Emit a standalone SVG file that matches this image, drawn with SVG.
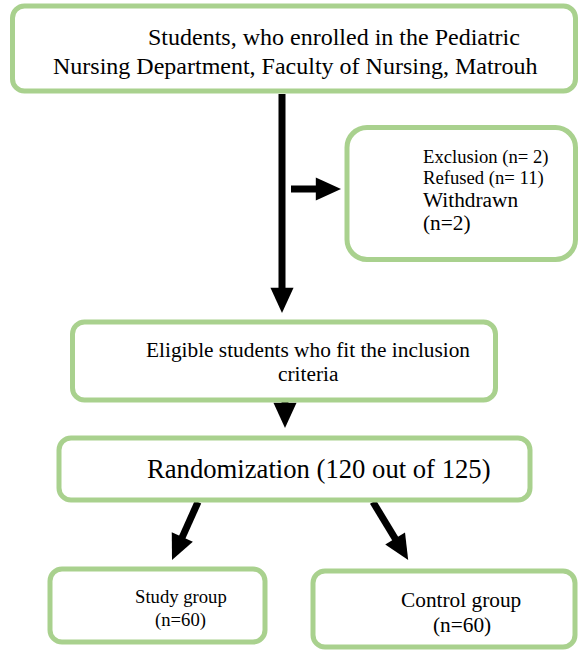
<svg xmlns="http://www.w3.org/2000/svg" width="580" height="651" viewBox="0 0 580 651">
<defs>
<style>
.box{fill:#fff;stroke:#A9D18E;stroke-width:5}
.t{font-family:"Liberation Serif","Times New Roman",serif;fill:#000}
.c{stroke:#000;stroke-width:7;fill:none;marker-end:url(#ah)}
</style>
<marker id="ah" markerUnits="strokeWidth" markerWidth="3.6" markerHeight="3.3" refX="2.17" refY="1.65" orient="auto" overflow="visible">
<path d="M0,0 L3.6,1.65 L0,3.3 z" fill="#000"/>
</marker>
</defs>
<rect width="580" height="651" fill="#fff"/>
<g id="connectors">
<line class="c" x1="282" y1="94" x2="282" y2="303"/>
<line class="c" x1="291" y1="189" x2="331" y2="189"/>
<line class="c" x1="285" y1="401" x2="285" y2="418"/>
<line class="c" x1="198" y1="502" x2="176.1" y2="550.9"/>
<line class="c" x1="373" y1="502" x2="403" y2="551.5"/>
</g>
<g id="n1">
<rect class="box" x="12.5" y="6" width="563" height="85" rx="12"/>
<text class="t" font-size="24" x="148" y="45">Students, who enrolled in the Pediatric</text>
<text class="t" font-size="24" x="53" y="74">Nursing Department, Faculty of Nursing, Matrouh</text>
</g>
<g id="n2">
<rect class="box" x="347" y="127.5" width="228.5" height="132" rx="20"/>
<text class="t" font-size="18.67" x="423" y="163">Exclusion (n= 2)</text>
<text class="t" font-size="18.67" x="423" y="184">Refused (n= 11)</text>
<text class="t" font-size="21.33" x="423" y="207">Withdrawn</text>
<text class="t" font-size="21.33" x="423" y="230">(n=2)</text>
</g>
<g id="n3">
<rect class="box" x="72.5" y="322" width="423" height="78" rx="12"/>
<text class="t" font-size="21.33" x="146" y="357">Eligible students who fit the inclusion</text>
<text class="t" font-size="21.33" x="278" y="381">criteria</text>
</g>
<g id="n4">
<rect class="box" x="59" y="438" width="471" height="62" rx="12"/>
<text class="t" font-size="26.67" x="147" y="478">Randomization (120 out of 125)</text>
</g>
<g id="n5">
<rect class="box" x="50" y="569" width="215" height="73" rx="12"/>
<text class="t" font-size="18.67" x="135" y="603">Study group</text>
<text class="t" font-size="18.67" x="155" y="626">(n=60)</text>
</g>
<g id="n6">
<rect class="box" x="313" y="571" width="262" height="76" rx="12"/>
<text class="t" font-size="21.33" x="401" y="607">Control group</text>
<text class="t" font-size="21.33" x="433" y="632">(n=60)</text>
</g>
</svg>
